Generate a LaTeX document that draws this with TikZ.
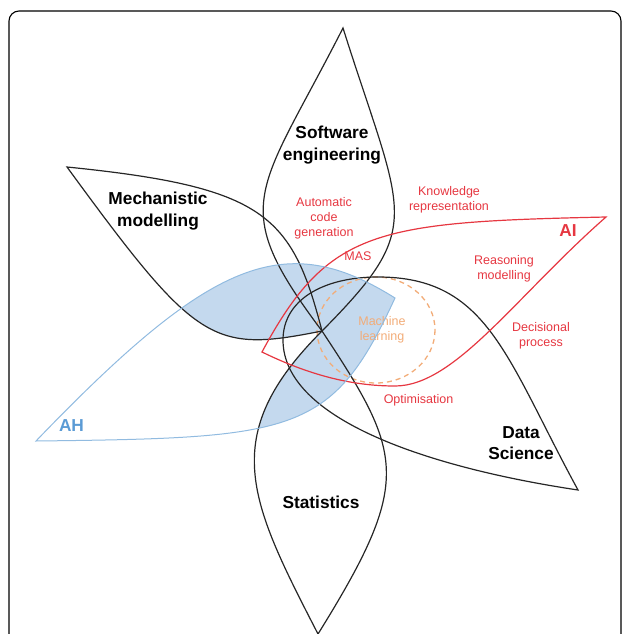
\documentclass[tikz,border=0pt]{standalone}
\usepackage{fontspec}
\setmainfont{Liberation Sans}
\definecolor{aired}{RGB}{230,55,65}
\definecolor{ahblue}{RGB}{91,155,213}
\definecolor{ahline}{RGB}{145,187,224}
\definecolor{ahfill}{RGB}{196,217,238}
\definecolor{mlorange}{RGB}{242,172,120}

\begin{document}
\begin{tikzpicture}[x=1pt,y=-1pt,
  petal/.style={draw=black!85, line width=1.2pt},
  biglab/.style={font=\fontsize{17.3}{21.5}\selectfont\bfseries, align=center, inner sep=0pt},
  redlab/.style={font=\fontsize{12.5}{15}\selectfont, text=aired, align=center, inner sep=0pt}]
\useasboundingbox (0,0) rectangle (629,634);

% frame
\draw[line width=1.1pt, rounded corners=10pt] (9,634) -- (9,11) -- (621,11) -- (621,634);

% AH shading, only right of mechanistic/statistics edges
\begin{scope}
\clip (67,167) .. controls (197,345) and (212,353) .. (322,331)
      .. controls (217,436) and (249,500) .. (318,634)
      -- (629,634) -- (629,0) -- (0,0) -- (0,167) -- cycle;
\fill[ahfill] (36,441) .. controls (212,258) and (285,229) .. (395,298)
      .. controls (332,434.5) and (296,438) .. cycle;
\end{scope}

% machine learning
\draw[mlorange, line width=1.3pt, dash pattern=on 5pt off 4pt] (376,330) ellipse [x radius=59, y radius=53];
\node (ml) at (382,330) [redlab, text=mlorange] {Machine\\learning};

% petals
\draw[petal] (343,28) .. controls (258,195) and (226,203) .. (322,331)
      .. controls (427,225) and (403,218) .. cycle;
\draw[petal] (67,167) .. controls (265,187) and (292,215) .. (322,331)
      .. controls (212,353) and (197,345) .. cycle;
\draw[petal] (322,331) .. controls (404,455) and (413,481) .. (318,634)
      .. controls (249,500) and (217,436) .. cycle;
\draw[petal] (578,490) .. controls (506,358) and (488,277) .. (378,277)
      .. controls (323,277) and (283,300) .. (283,340)
      .. controls (283,420) and (431,468) .. cycle;
%AI
\draw[aired, line width=1.2pt] (606,217) .. controls (376,222) and (328,229) .. (262,352)
      .. controls (307,374) and (350,386) .. (395,386)
      .. controls (455,386) and (516,296) .. cycle;
%AH
\draw[ahline, line width=1pt] (36,441) .. controls (212,258) and (285,229) .. (395,298)
      .. controls (332,434.5) and (296,438) .. cycle;

% labels
\node (se) at (332,145) [biglab] {Software\\engineering};
\node (mm) at (158,211) [biglab] {Mechanistic\\modelling};
\node (st) at (321,502) [biglab] {Statistics};
\node (ds) at (521,443) [biglab] {Data\\Science};
\node (ai) at (568,231) [biglab, text=aired] {AI};
\node (ah) at (71.5,426) [biglab, text=ahblue] {AH};

\node (acg) at (324,218) [redlab] {Automatic\\code\\generation};
\node (kr) at (449,200) [redlab] {Knowledge\\representation};
\node (mas) at (358,256) [redlab] {MAS};
\node (rm) at (504,269) [redlab] {Reasoning\\modelling};
\node (dp) at (541,336) [redlab] {Decisional\\process};
\node (opt) at (418.5,400) [redlab] {Optimisation};
\end{tikzpicture}
\end{document}
